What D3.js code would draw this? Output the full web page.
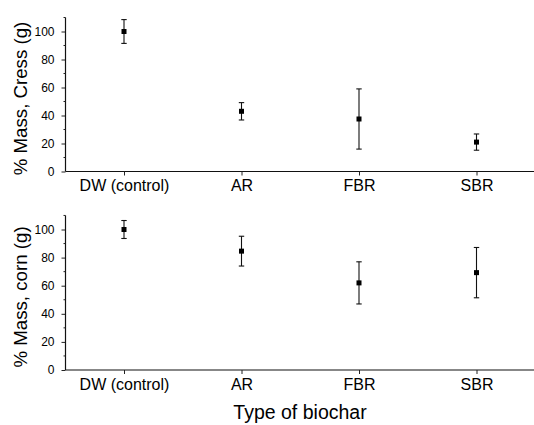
<!DOCTYPE html>
<html><head><meta charset="utf-8">
<script src="https://cdn.jsdelivr.net/npm/d3@7"></script>
<style>body{margin:0;background:#fff}svg{display:block}text{font-family:"Liberation Sans",Arial,sans-serif;fill:#000}</style>
</head><body><div id="chart"></div>
<script>
const categories = ["DW (control)", "AR", "FBR", "SBR"];
const cressMean = [100, 43, 37.5, 21];
const cressErr = [8.5, 6.2, 21.5, 5.8];
const cornMean = [100, 84.6, 62, 69.3];
const cornErr = [6.4, 10.6, 15, 17.9];
const yTicks = [0, 20, 40, 60, 80, 100];
const yLabels = ["% Mass, Cress (g)", "% Mass, corn (g)"];
const xTitle = "Type of biochar";

const W = 534, H = 425;
const svg = d3.select("#chart").append("svg").attr("width", W).attr("height", H);

const x = d3.scalePoint().domain(categories).range([124, 476.5]);
const left = 65.5, right = 534;
const FONT = "Liberation Sans, Arial, sans-serif";

const panels = [
  {mean: cressMean, err: cressErr, y0: 171.5, y100: 31.5, label: yLabels[0]},
  {mean: cornMean, err: cornErr, y0: 370, y100: 229.5, label: yLabels[1]}
];

panels.forEach(p => {
  const y = d3.scaleLinear().domain([0, 100]).range([p.y0, p.y100]);
  const g = svg.append("g");
  const ya = g.append("g").attr("transform", `translate(${left},0)`)
    .call(d3.axisLeft(y).tickValues(yTicks).tickSize(4).tickPadding(7));
  ya.select(".domain").remove();
  ya.selectAll("line").attr("stroke", "#222");
  g.append("line").attr("x1", left).attr("x2", left).attr("y1", y(110)).attr("y2", y(0))
    .attr("stroke", "#111").attr("stroke-width", 1.2);
  ya.selectAll("text").attr("font-size", 12).attr("font-family", FONT).attr("fill", "#111");
  g.selectAll(".minor").data([10, 30, 50, 70, 90, 110]).enter().append("line")
    .attr("x1", left).attr("x2", left - 2).attr("y1", d => y(d)).attr("y2", d => y(d))
    .attr("stroke", "#222");
  g.append("line").attr("x1", left).attr("x2", right).attr("y1", y(0)).attr("y2", y(0))
    .attr("stroke", "#111").attr("stroke-width", 1.2);
  const xa = g.append("g").attr("transform", `translate(0,${y(0)})`)
    .call(d3.axisBottom(x).tickSize(4).tickPadding(4.5));
  xa.select(".domain").remove();
  xa.selectAll("line").attr("stroke", "#222");
  xa.selectAll("text").attr("font-size", 16).attr("font-family", FONT).attr("fill", "#111");
  g.append("text").attr("transform", `translate(26.5,${p.y0 - 73}) rotate(-90)`)
    .attr("text-anchor", "middle").attr("font-size", 18.7).attr("fill", "#111").text(p.label);
  const pts = g.selectAll(".pt").data(categories.map((c, i) => ({c, m: p.mean[i], e: p.err[i]})))
    .enter().append("g");
  pts.append("line").attr("x1", d => x(d.c)).attr("x2", d => x(d.c))
    .attr("y1", d => y(d.m + d.e)).attr("y2", d => y(d.m - d.e)).attr("stroke", "#111").attr("stroke-width", 1.1);
  [1, -1].forEach(s => {
    pts.append("line").attr("x1", d => x(d.c) - 2.7).attr("x2", d => x(d.c) + 2.7)
      .attr("y1", d => y(d.m + s * d.e)).attr("y2", d => y(d.m + s * d.e)).attr("stroke", "#111").attr("stroke-width", 1.1);
  });
  pts.append("rect").attr("x", d => x(d.c) - 2.5).attr("y", d => y(d.m) - 2.5)
    .attr("width", 5).attr("height", 5).attr("fill", "#000");
});

svg.append("text").attr("x", 300).attr("y", 419).attr("text-anchor", "middle")
  .attr("font-size", 19.5).attr("fill", "#111").attr("font-family", FONT).text(xTitle);
</script></body></html>
